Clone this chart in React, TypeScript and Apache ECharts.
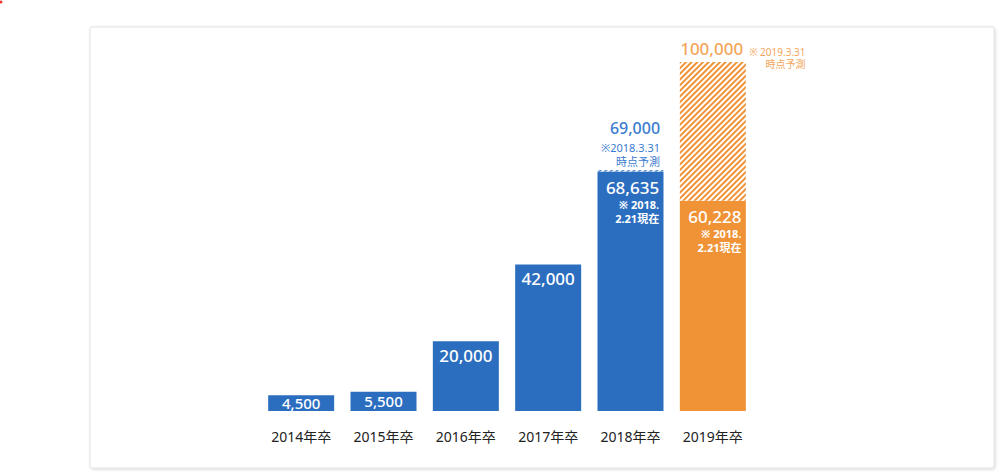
import React, { useEffect, useRef } from "react";
import * as echarts from "echarts";

const categories = ["2014年卒", "2015年卒", "2016年卒", "2017年卒", "2018年卒", "2019年卒"];
const actualValues = [4500, 5500, 20000, 42000, 68635, 60228];
const forecastValues: (number | null)[] = [null, null, null, null, 69000, 100000];
const actualNotes = ["", "", "", "", "※ 2018.\n2.21現在", "※ 2018.\n2.21現在"];
const forecastNotes = ["", "", "", "", "※2018.3.31\n時点予測", "※ 2019.3.31\n時点予測"];

const BLUE = "#2b6ec0";
const ORANGE = "#f09236";
const BLUE_TEXT = "#3a7ccf";
const ORANGE_TEXT = "#f3a65b";
const FONT = "'Noto Sans', 'Noto Sans CJK JP', sans-serif";

const fmt = (v: number) => v.toLocaleString("en-US");

export default function App() {
  const ref = useRef<HTMLDivElement>(null);
  useEffect(() => {
    if (!ref.current) return;
    const chart = echarts.init(ref.current, null, { renderer: "svg" });
    const last = categories.length - 1;

    const actualData = actualValues.map((v, i) => {
      const isLast = i === last;
      const note = actualNotes[i];
      const small = v < 10000;
      return {
        value: v,
        itemStyle: { color: isLast ? ORANGE : BLUE },
        label: {
          show: true,
          position: small ? "inside" : "insideTop",
          distance: note ? 6 : 4,
          offset: note ? [2, 0] : [0, 0],
          formatter: note
            ? `{v|${fmt(v)}}\n` + note.split("\n").map((l) => `{n|${l}}`).join("\n")
            : `{v|${fmt(v)}}`,
          rich: {
            v: { fontSize: small ? 15 : 17, color: "#fff", fontFamily: FONT, lineHeight: small ? 15 : 20, fontWeight: 500 },
            n: { fontSize: 11, color: "#fff", fontFamily: FONT, lineHeight: 14, fontWeight: "bold", align: "right" },
          },
        },
      };
    });

    const forecastData = forecastValues.map((v, i) => {
      if (v == null) return { value: 0, itemStyle: { color: "transparent" }, label: { show: false } };
      const isLast = i === last;
      const diff = v - actualValues[i];
      const col = isLast ? ORANGE : BLUE;
      const tcol = isLast ? ORANGE_TEXT : BLUE_TEXT;
      const lines = forecastNotes[i].split("\n");
      return {
        value: diff,
        itemStyle: {
          color: "#ffffff",
          decal: {
            symbol: "rect",
            symbolSize: 1,
            dashArrayX: [1, 0],
            dashArrayY: [1.3, 1.7],
            rotation: -Math.PI / 4,
            color: col,
          },
        },
        label: {
          show: true,
          position: "top",
          distance: isLast ? 6 : 2,
          offset: isLast ? [30, 15] : [0, 0],
          formatter: isLast
            ? `{v|${fmt(v)}}{g| }{n|${lines[0]}}\n{r|${lines[1]}}`
            : `{w|${fmt(v)}}\n{r|${lines[0]}}\n{r|${lines[1]}}`,
          rich: {
            v: { fontSize: 17, color: tcol, fontFamily: FONT, lineHeight: 16, align: "left", verticalAlign: "bottom", fontWeight: 500 },
            w: { fontSize: 16, color: tcol, fontFamily: FONT, lineHeight: 22, align: "right", fontWeight: 500, padding: [0, 0, 2, 0] },
            g: { width: 6 },
            n: { fontSize: 10, color: tcol, fontFamily: FONT, lineHeight: 13, verticalAlign: "bottom" },
            r: { fontSize: isLast ? 10 : 11, color: tcol, fontFamily: FONT, lineHeight: 14, align: "right" },
          },
        },
      };
    });

    chart.setOption({
      animation: false,
      graphic: [
        {
          type: "rect",
          z: -10,
          shape: { x: 90, y: 27, width: 904, height: 441, r: 2 },
          style: {
            fill: "#fff",
            stroke: "#e2e2e2",
            lineWidth: 1,
            shadowBlur: 3,
            shadowOffsetX: 1,
            shadowOffsetY: 1,
            shadowColor: "rgba(0,0,0,0.15)",
          },
        },
        { type: "circle", shape: { cx: 1, cy: 2, r: 1.5 }, style: { fill: "#e33" } },
      ],
      grid: { left: 260, right: 246, top: 62, bottom: 63 },
      xAxis: {
        type: "category",
        data: categories,
        axisLine: { show: false },
        axisTick: { show: false },
        axisLabel: { margin: 18, fontSize: 14, color: "#222", fontFamily: FONT },
      },
      yAxis: { type: "value", min: 0, max: 100000, show: false, splitLine: { show: false } },
      series: [
        { type: "bar", stack: "a", barWidth: 66, data: actualData, z: 2 },
        { type: "bar", stack: "a", barWidth: 66, data: forecastData, z: 2 },
      ],
    });
    return () => chart.dispose();
  }, []);
  return (
    <div
      ref={ref}
      style={{ position: "fixed", left: 0, top: 0, width: 1000, height: 474, background: "#fff" }}
    />
  );
}
